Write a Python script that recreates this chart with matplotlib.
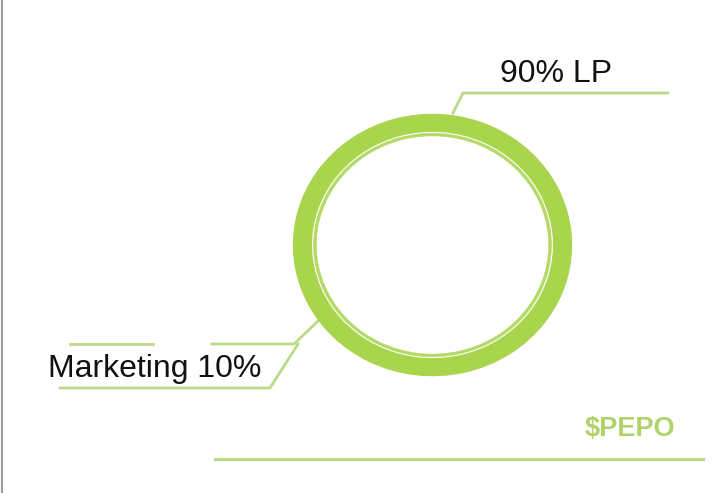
import matplotlib.pyplot as plt

labels = ['90% LP', 'Marketing 10%']
shares = [90, 10]
title = '$PEPO'

ring_color = '#a9d54c'
line_color = '#bcd98a'

plt.rcParams['font.family'] = ['Liberation Sans', 'DejaVu Sans']

fig = plt.figure(figsize=(7.23, 4.93), dpi=100)
fig.patch.set_facecolor('white')

# overlay in pixel coords for text and leader lines
ax = fig.add_axes([0, 0, 1, 1])
ax.set_xlim(0, 723)
ax.set_ylim(493, 0)
ax.axis('off')

# ring (slightly wider than tall, so its own axes)
pax = fig.add_axes([292 / 723, 1 - 377 / 493, 281 / 723, 264 / 493])
pax.pie(shares, colors=[ring_color, ring_color], startangle=243, radius=1,
        wedgeprops=dict(width=0.13, linewidth=0.8, edgecolor=ring_color))
pax.pie(shares, colors=['#b4da66', '#b4da66'], startangle=243, radius=0.855,
        wedgeprops=dict(width=0.02, linewidth=0.4, edgecolor='#b4da66'))
pax.set_aspect('auto')
pax.set_xlim(-1.01, 1.01)
pax.set_ylim(-1.01, 1.01)
pax.axis('off')

# left grey border
ax.plot([2, 2], [0, 493], color='#9a9a9a', lw=1.5)

# 90% LP leader
ax.plot([453, 463, 668], [113, 93, 93], color=line_color, lw=2, solid_joinstyle='miter')
ax.text(500, 82, labels[0], fontsize=23, color='#111111', va='baseline', ha='left')

# Marketing leader
ax.plot([318, 294, 212], [321, 344, 344], color=line_color, lw=2)
ax.plot([70, 153], [344, 344], color=line_color, lw=2)
ax.plot([298, 270, 60], [344, 388, 388], color=line_color, lw=2)
ax.text(48, 377, labels[1], fontsize=23, color='#111111', va='baseline', ha='left')

# token name and base line
ax.text(585, 436, title, fontsize=19.5, fontweight='bold', color='#aed36b',
        va='baseline', ha='left')
ax.plot([215, 703], [459, 459], color=line_color, lw=2.3)

fig.savefig('out.png', dpi=100, facecolor='white')
